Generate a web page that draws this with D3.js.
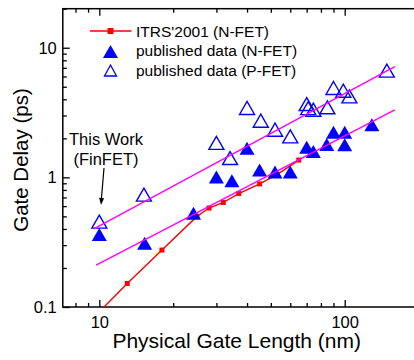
<!DOCTYPE html>
<html><head><meta charset="utf-8">
<script src="https://cdn.jsdelivr.net/npm/d3@7"></script>
<style>body{margin:0;background:#fff}svg{display:block;font-family:"Liberation Sans",Arial,sans-serif}</style>
</head><body>
<svg id="c" width="414" height="360"></svg>
<script>
// ITRS'2001 (N-FET) roadmap: gate length (nm) and gate delay (ps)
const itrsLength = [9, 13, 18, 25, 28, 32, 37, 45, 53, 65];
const itrsDelay  = [0.075, 0.152, 0.275, 0.50, 0.58, 0.64, 0.75, 0.89, 1.05, 1.36];
// published data (N-FET)
const nfetLength = [10, 15.3, 24.2, 30, 34.7, 40, 45, 52, 60, 70, 74.5, 84.5, 90, 100, 100, 129];
const nfetDelay  = [0.35, 0.30, 0.51, 0.97, 0.91, 1.62, 1.10, 1.06, 1.06, 1.65, 1.53, 1.73, 2.15, 2.15, 1.72, 2.46];
// published data (P-FET)
const pfetLength = [10, 15.2, 30, 34.1, 40, 45.5, 52, 60, 70, 71, 74.5, 85, 90, 98.7, 104.5, 148.5];
const pfetDelay  = [0.44, 0.71, 1.78, 1.36, 3.31, 2.64, 2.25, 2.0, 3.55, 3.3, 3.21, 3.35, 4.72, 4.5, 4.07, 6.43];
// fit lines
const fitPLength = [9.5, 160];
const fitPDelay  = [0.40, 7.15];
const fitNLength = [9.7, 160];
const fitNDelay  = [0.21, 3.31];
const xMajor = [10, 100];
const xMinor = [8, 9, 20, 30, 40, 50, 60, 70, 80, 90, 200];
const yMajor = [0.1, 1, 10];
const yMinor = [0.2,0.3,0.4,0.5,0.6,0.7,0.8,0.9,2,3,4,5,6,7,8,9,20];
const legendLabels = ["ITRS'2001 (N-FET)", "published data (N-FET)", "published data (P-FET)"];

const svg = d3.select("#c");
const x = d3.scaleLog().domain([10, 100]).range([99.3, 344.7]);
const y = d3.scaleLog().domain([0.1, 20]).range([307, 8.7]);
const X0 = x(7.1), X1 = x(200), Y0 = y(0.1), Y1 = y(20);

svg.append("defs").append("clipPath").attr("id","clip")
  .append("rect").attr("x",X0).attr("y",Y1).attr("width",X1-X0).attr("height",Y0-Y1);

const axisStyle = g => { g.select(".domain").remove(); g.selectAll("line").attr("stroke","#000").attr("stroke-width",1.3); g.selectAll("text").attr("fill","#000").attr("font-size","16.5px").attr("font-family","Liberation Sans, Arial, sans-serif"); };

// bottom axis
svg.append("g").attr("transform",`translate(0,${Y0})`)
  .call(d3.axisBottom(x).tickValues(xMajor).tickFormat(d3.format("d")).tickSizeInner(-7).tickPadding(9)).call(axisStyle);
svg.append("g").attr("transform",`translate(0,${Y0})`)
  .call(d3.axisBottom(x).tickValues(xMinor).tickFormat("").tickSizeInner(-4)).call(axisStyle);
// top axis
svg.append("g").attr("transform",`translate(0,${Y1})`)
  .call(d3.axisTop(x).tickValues(xMajor).tickFormat("").tickSizeInner(-7)).call(axisStyle);
svg.append("g").attr("transform",`translate(0,${Y1})`)
  .call(d3.axisTop(x).tickValues(xMinor).tickFormat("").tickSizeInner(-4)).call(axisStyle);
// left axis
svg.append("g").attr("transform",`translate(${X0},0)`)
  .call(d3.axisLeft(y).tickValues(yMajor).tickFormat(d => d < 1 ? "0.1" : d3.format("d")(d)).tickSizeInner(-7).tickPadding(6)).call(axisStyle);
svg.append("g").attr("transform",`translate(${X0},0)`)
  .call(d3.axisLeft(y).tickValues(yMinor).tickFormat("").tickSizeInner(-4)).call(axisStyle);

// frame
svg.append("rect").attr("x",X0).attr("y",Y1).attr("width",X1-X0).attr("height",Y0-Y1)
  .attr("fill","none").attr("stroke","#000").attr("stroke-width",1.5);

const plot = svg.append("g").attr("clip-path","url(#clip)");
const line = d3.line().x(d => x(d[0])).y(d => y(d[1]));

// ITRS
const itrs = itrsLength.map((l,i) => [l, itrsDelay[i]]);
plot.append("path").datum(itrs).attr("d", line).attr("fill","none").attr("stroke","#ff0000").attr("stroke-width",1.4);
plot.selectAll(".sq").data(itrs).join("rect").attr("x",d=>x(d[0])-2.5).attr("y",d=>y(d[1])-2.5)
  .attr("width",5).attr("height",5).attr("fill","#ff0000");

const tri = "M0,-8.5L7.5,4.5L-7.5,4.5Z";
// N-FET filled triangles
plot.selectAll(".nf").data(nfetLength.map((l,i)=>[l,nfetDelay[i]])).join("path")
  .attr("d",tri).attr("transform",d=>`translate(${x(d[0])},${y(d[1])})`).attr("fill","#0000ff");
// P-FET open triangles
plot.selectAll(".pf").data(pfetLength.map((l,i)=>[l,pfetDelay[i]])).join("path")
  .attr("d",tri).attr("transform",d=>`translate(${x(d[0])},${y(d[1])})`).attr("fill","none").attr("stroke","#0000ff").attr("stroke-width",1.4);

// fit lines
plot.append("path").datum(fitPLength.map((l,i)=>[l,fitPDelay[i]])).attr("d",line).attr("fill","none").attr("stroke","#ff00ff").attr("stroke-width",1.4);
plot.append("path").datum(fitNLength.map((l,i)=>[l,fitNDelay[i]])).attr("d",line).attr("fill","none").attr("stroke","#ff00ff").attr("stroke-width",1.4);

// legend
const lg = svg.append("g");
lg.append("line").attr("x1",90).attr("x2",131.5).attr("y1",31).attr("y2",31).attr("stroke","#ff0000").attr("stroke-width",1.4);
lg.append("rect").attr("x",107.5).attr("y",28).attr("width",6).attr("height",6).attr("fill","#ff0000");
lg.append("path").attr("d",tri).attr("transform","translate(110.5,53.5)").attr("fill","#0000ff");
lg.append("path").attr("d","M0,-7L6,4L-6,4Z").attr("transform","translate(110.5,72)").attr("fill","none").attr("stroke","#0000ff").attr("stroke-width",1.3);
lg.selectAll("text").data(legendLabels).join("text")
  .attr("x",136).attr("y",(d,i)=>36.5 + i*19.5).attr("font-size","15.5px").attr("fill","#000").text(d=>d);

// annotation
svg.append("text").attr("x",106).attr("y",145).attr("text-anchor","middle").attr("font-size","16.5px").text("This Work");
svg.append("text").attr("x",106).attr("y",165).attr("text-anchor","middle").attr("font-size","16.5px").text("(FinFET)");
svg.append("line").attr("x1",104).attr("y1",168).attr("x2",101.3).attr("y2",200).attr("stroke","#000").attr("stroke-width",1.2);
svg.append("path").attr("d","M0,0L-2.5,-7L2.5,-7Z").attr("transform","translate(101,205) rotate(5)").attr("fill","#000");

// axis titles
svg.append("text").attr("x",236.7).attr("y",348).attr("text-anchor","middle").attr("font-size","21px").text("Physical Gate Length (nm)");
svg.append("text").attr("transform","translate(28,160) rotate(-90)").attr("text-anchor","middle").attr("font-size","20.5px").text("Gate Delay (ps)");
</script>
</body></html>
